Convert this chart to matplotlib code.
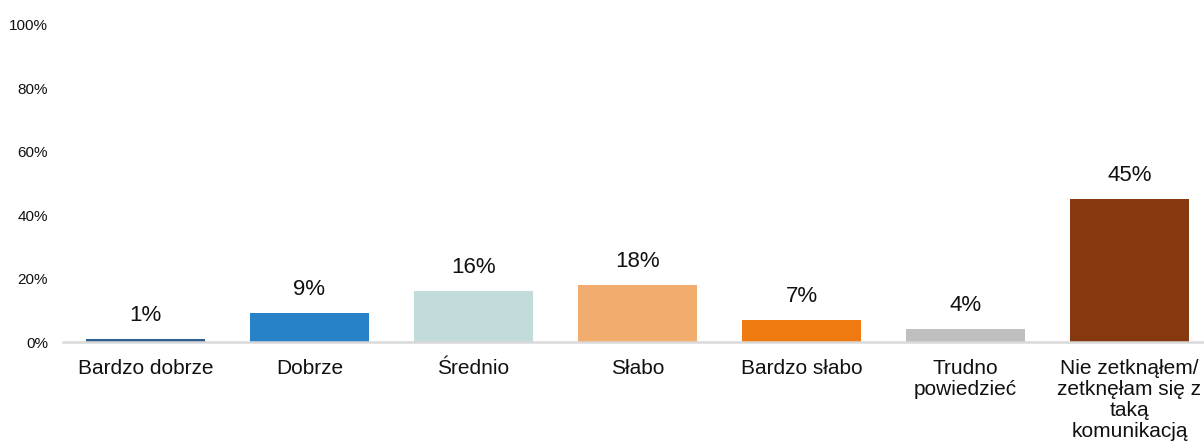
import matplotlib.pyplot as plt
from matplotlib.ticker import FuncFormatter

plt.rcParams['font.family'] = ['Liberation Sans', 'DejaVu Sans']

categories = ['Bardzo dobrze', 'Dobrze', 'Średnio', 'Słabo', 'Bardzo słabo',
              'Trudno\npowiedzieć',
              'Nie zetknąłem/\nzetknęłam się z\ntaką\nkomunikacją']
values = [1, 9, 16, 18, 7, 4, 45]
colors = ['#2F5F8F', '#2882C8', '#C2DCDC', '#F2AC6E', '#EE7A10', '#BFBFBF', '#86390E']

fig = plt.figure(figsize=(12.04, 4.48), dpi=100)
ax = fig.add_axes([0.0527, 0.2366, 0.9535, 0.7076])

x = range(len(categories))
bars = ax.bar(x, values, width=0.73, color=colors)

for b, v in zip(bars, values):
    ax.annotate(f'{v}%', (b.get_x() + b.get_width() / 2, v),
                xytext=(0, 13), textcoords='offset points',
                ha='center', va='baseline', fontsize=16, color='#111111')

ax.set_xlim(-0.5, 6.5)
ax.set_ylim(0, 100)
ax.set_yticks(range(0, 101, 20))
ax.yaxis.set_major_formatter(FuncFormatter(lambda v, p: f'{int(v)}%'))
ax.set_xticks(list(x))
ax.set_xticklabels(categories, fontsize=15, linespacing=1.14, va='top')

for s in ['top', 'right', 'left']:
    ax.spines[s].set_visible(False)
ax.spines['bottom'].set_color('#D9D9D9')
ax.spines['bottom'].set_linewidth(1.8)
ax.tick_params(axis='x', length=0, pad=12, colors='#111111')
ax.tick_params(axis='y', length=0, pad=11, labelsize=11, colors='#111111')

fig.savefig('out.png', dpi=100)
